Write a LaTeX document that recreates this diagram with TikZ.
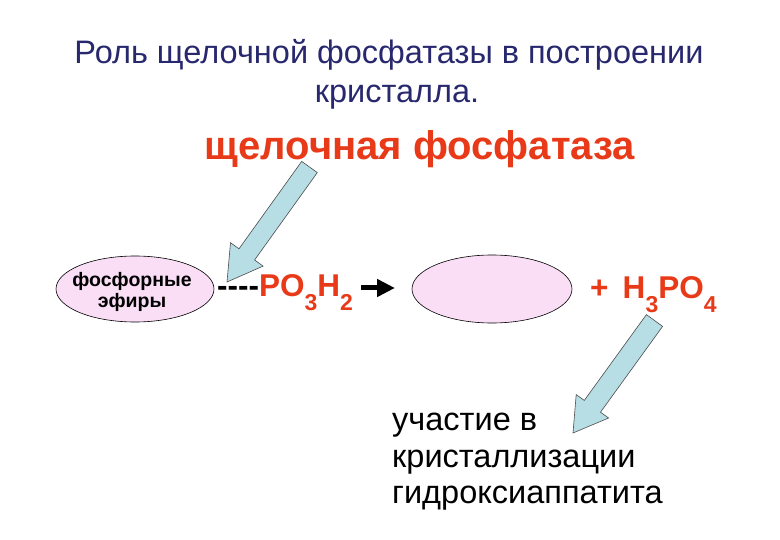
\documentclass[tikz,border=0pt]{standalone}
\usepackage{fontspec}
\setmainfont{Liberation Sans}
\usetikzlibrary{arrows.meta,shapes.geometric}
\definecolor{titlenavy}{RGB}{40,40,110}
\definecolor{chemred}{RGB}{232,58,24}
\definecolor{pinkfill}{RGB}{250,222,246}
\definecolor{arrowblue}{RGB}{182,222,228}
\newcommand\chemsub[1]{\raisebox{-0.42em}{\fontsize{23}{23}\selectfont #1}}
\begin{document}
\begin{tikzpicture}[x=1pt,y=-1pt,
  titletext/.style={text=titlenavy,font=\fontsize{32.5}{38}\selectfont,inner sep=0pt,anchor=base},
  enztext/.style={text=chemred,font=\bfseries\fontsize{40}{44}\selectfont,inner sep=0pt,anchor=base},
  blob/.style={ellipse,draw=black,line width=0.6pt,fill=pinkfill,inner sep=0pt},
  chemtext/.style={font=\bfseries\fontsize{31.5}{34}\selectfont,inner sep=0pt},
  bigarrow/.style={fill=arrowblue,draw=black!70,line width=0.6pt,line join=miter},
  reactarrow/.style={line width=5pt,-{Triangle[length=18pt,width=17pt]}},
  plaintext/.style={font=\fontsize{32.5}{36}\selectfont,inner sep=0pt,anchor=base west}
]
\useasboundingbox[fill=white] (0,0) rectangle (780,540);
\node[titletext] (t1) at (389,64) {Роль щелочной фосфатазы в построении};
\node[titletext] (t2) at (397,103) {кристалла.};
\node[enztext] (enz) at (420,160) {щелочная фосфатаза};
\node[blob,minimum width=158pt,minimum height=66pt] (e1) at (135,289) {};
\node[font=\bfseries\fontsize{19.5}{21}\selectfont,inner sep=0pt,anchor=base] (e1a) at (132,287) {фосфорные};
\node[font=\bfseries\fontsize{19.5}{21}\selectfont,inner sep=0pt,anchor=base] (e1b) at (132,308) {эфиры};
\node[chemtext,anchor=base west] (po) at (217,297) {{-}{-}{-}{-}\textcolor{chemred}{PO\chemsub{3}H\chemsub{2}}};
\node[blob,minimum width=160pt,minimum height=68pt] (e2) at (492,289) {};
\node[chemtext,text=chemred,anchor=base west] (h) at (590,299) {+\hspace{0.45em}H\chemsub{3}PO\chemsub{4}};
\coordinate (ra) at (361,288);
\coordinate (rb) at (395,288);
\draw[reactarrow] (ra) -- (rb);
\node[plaintext] (p1) at (392,431) {участие в};
\node[plaintext] (p2) at (392,467) {кристаллизации};
\node[plaintext] (p3) at (392,503) {гидроксиаппатита};
% enzyme arrow
\draw[bigarrow] (317.3,172.6) -- (301.7,161.4) -- (239.0,248.8) -- (230.5,242.7) -- (227,282) -- (263.1,266.1) -- (254.6,260.0) -- cycle;
% product arrow
\draw[bigarrow] (662.6,326.4) -- (646.4,314.6) -- (584.3,400.4) -- (576.2,394.6) -- (573,433) -- (608.6,418.0) -- (600.5,412.2) -- cycle;
\end{tikzpicture}
\end{document}
